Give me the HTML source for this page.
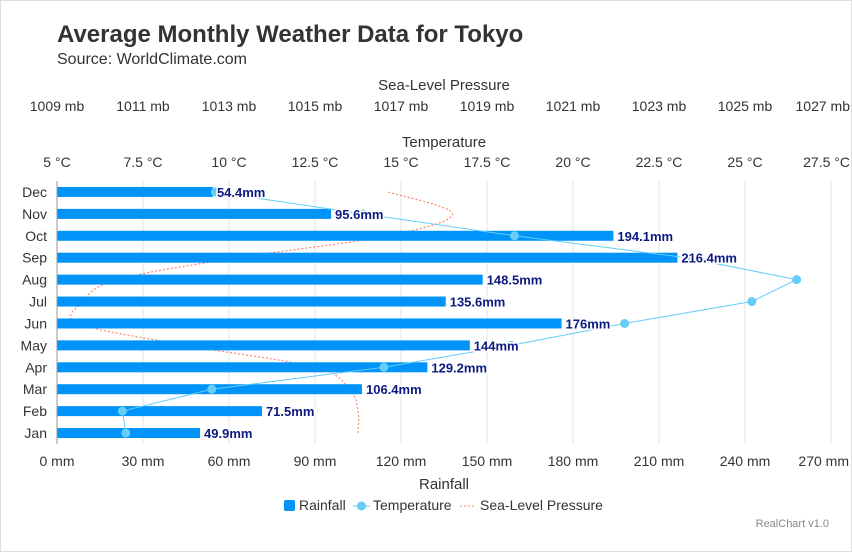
<!DOCTYPE html>
<html><head><meta charset="utf-8"><style>
body{margin:0;background:#fff;}
#wrap{position:relative;width:852px;height:552px;font-family:"Liberation Sans",sans-serif;}
svg text{font-family:"Liberation Sans",sans-serif;}
</style></head><body>
<div id="wrap">
<svg id="chart" width="852" height="552">
<rect x="0.5" y="0.5" width="851" height="551" fill="#fff" stroke="#ddd"/>
<text x="57" y="42" font-size="24" font-weight="bold" fill="#333">Average Monthly Weather Data for Tokyo</text>
<text x="57" y="64" font-size="16" fill="#333">Source: WorldClimate.com</text>
<g id="grid"></g><g id="press"></g><g id="bars"></g><g id="temp"></g><g id="labels"></g><g id="axes"></g>
<g>
<g><rect x="284" y="500" width="11" height="11" rx="2" fill="#0094f8"/><text x="299" y="510" font-size="14" fill="#333">Rainfall</text></g>
<g><line x1="353" y1="506" x2="370" y2="506" stroke="#66ccf8"/><circle cx="361.5" cy="506" r="4.5" fill="#66ccf8"/><text x="373" y="510" font-size="14" fill="#333">Temperature</text></g>
<g><line x1="460" y1="506" x2="476" y2="506" stroke="#f78a70" stroke-dasharray="2,2"/><text x="480" y="510" font-size="14" fill="#333">Sea-Level Pressure</text></g>
</g>
<text x="829" y="527" font-size="11" text-anchor="end" fill="#888">RealChart v1.0</text>
</svg></div>
<script>
const months=["Jan","Feb","Mar","Apr","May","Jun","Jul","Aug","Sep","Oct","Nov","Dec"];
const rainfall=[49.9,71.5,106.4,129.2,144,176,135.6,148.5,216.4,194.1,95.6,54.4];
const temperature=[7.0,6.9,9.5,14.5,18.2,21.5,25.2,26.5,23.3,18.3,13.9,9.6];
const pressure=[1016.0,1016.0,1015.8,1015.0,1012.0,1009.5,1009.6,1010.4,1013.2,1016.7,1018.2,1016.7];
const rainTicks=[0,30,60,90,120,150,180,210,240,270];
const tempTicks=[5,7.5,10,12.5,15,17.5,20,22.5,25,27.5];
const pressTicks=[1009,1011,1013,1015,1017,1019,1021,1023,1025,1027];
const NS="http://www.w3.org/2000/svg";
const L=57,R=831,T=181,B=444;
const xR=v=>L+(v-0)/(270-0)*(R-L);
const xT=v=>L+(v-5)/(27.5-5)*(R-L);
const xP=v=>L+(v-1009)/(1027-1009)*(R-L);
const band=(B-T)/months.length;
const yC=i=>B-band*(i+0.5);
function mk(tag,attrs,parent){const e=document.createElementNS(NS,tag);for(const k in attrs)e.setAttribute(k,attrs[k]);parent.appendChild(e);return e;}
const grid=document.getElementById('grid'),axes=document.getElementById('axes'),bars=document.getElementById('bars'),temp=document.getElementById('temp'),press=document.getElementById('press'),labels=document.getElementById('labels');
rainTicks.forEach((t,k)=>{if(t>0){const g=mk('line',{x1:xR(t),x2:xR(t),y1:T,y2:B,stroke:'#e4e4e4'},grid);}
 const last=k===rainTicks.length-1;
 const tx=mk('text',{x:last?849:xR(t),y:466,'font-size':14,'text-anchor':last?'end':'middle',fill:'#333'},axes);tx.textContent=t+' mm';
 });
const ax=mk('line',{x1:L,x2:L,y1:T,y2:B,stroke:'#999'},axes);
tempTicks.forEach((t,k)=>{const last=k===tempTicks.length-1;
 const tx=mk('text',{x:last?850:xT(t),y:167,'font-size':14,'text-anchor':last?'end':'middle',fill:'#333'},axes);tx.textContent=t+' °C';
 });
pressTicks.forEach((t,k)=>{const last=k===pressTicks.length-1;
 const tx=mk('text',{x:last?850:xP(t),y:111,'font-size':14,'text-anchor':last?'end':'middle',fill:'#333'},axes);tx.textContent=t+' mb';
 });
[[444,489,'Rainfall','x-axis-title'],[444,147,'Temperature','temperature-axis-title'],[444,90,'Sea-Level Pressure','pressure-axis-title']].forEach(a=>{
 const tx=mk('text',{x:a[0],y:a[1],'font-size':15,'text-anchor':'middle',fill:'#333'},axes);tx.textContent=a[2];
 });
months.forEach((m,i)=>{const tx=mk('text',{x:47,y:yC(i)+5,'font-size':14,'text-anchor':'end',fill:'#333'},axes);tx.textContent=m;
 });
const pp=pressure.map((v,i)=>[xP(v),yC(i)]);
let d='M'+pp[0][0]+','+pp[0][1];
for(let i=0;i<pp.length-1;i++){const p0=pp[Math.max(i-1,0)],p1=pp[i],p2=pp[i+1],p3=pp[Math.min(i+2,pp.length-1)];
 d+=' C'+(p1[0]+(p2[0]-p0[0])/6)+','+(p1[1]+(p2[1]-p0[1])/6)+' '+(p2[0]-(p3[0]-p1[0])/6)+','+(p2[1]-(p3[1]-p1[1])/6)+' '+p2[0]+','+p2[1];}
const pl=mk('path',{d:d,fill:'none',stroke:'#f78a70','stroke-dasharray':'2,2','stroke-width':1.2},press);

rainfall.forEach((v,i)=>{const b=mk('rect',{x:L,y:yC(i)-5,width:xR(v)-L,height:10,fill:'#0094f8'},bars);
 
 const tx=mk('text',{x:xR(v)+4,y:yC(i)+5,'font-size':13,'font-weight':'bold',fill:'#0b1a80',stroke:'#fff','stroke-width':3,'paint-order':'stroke','stroke-linejoin':'round'},labels);tx.textContent=v+'mm';
 });
const tl=mk('polyline',{points:temperature.map((v,i)=>xT(v)+','+yC(i)).join(' '),fill:'none',stroke:'#66ccf8','stroke-width':1},temp);

temperature.forEach((v,i)=>{const c=mk('circle',{cx:xT(v),cy:yC(i),r:4.5,fill:'#66ccf8'},temp);
 });
</script>
</body></html>
